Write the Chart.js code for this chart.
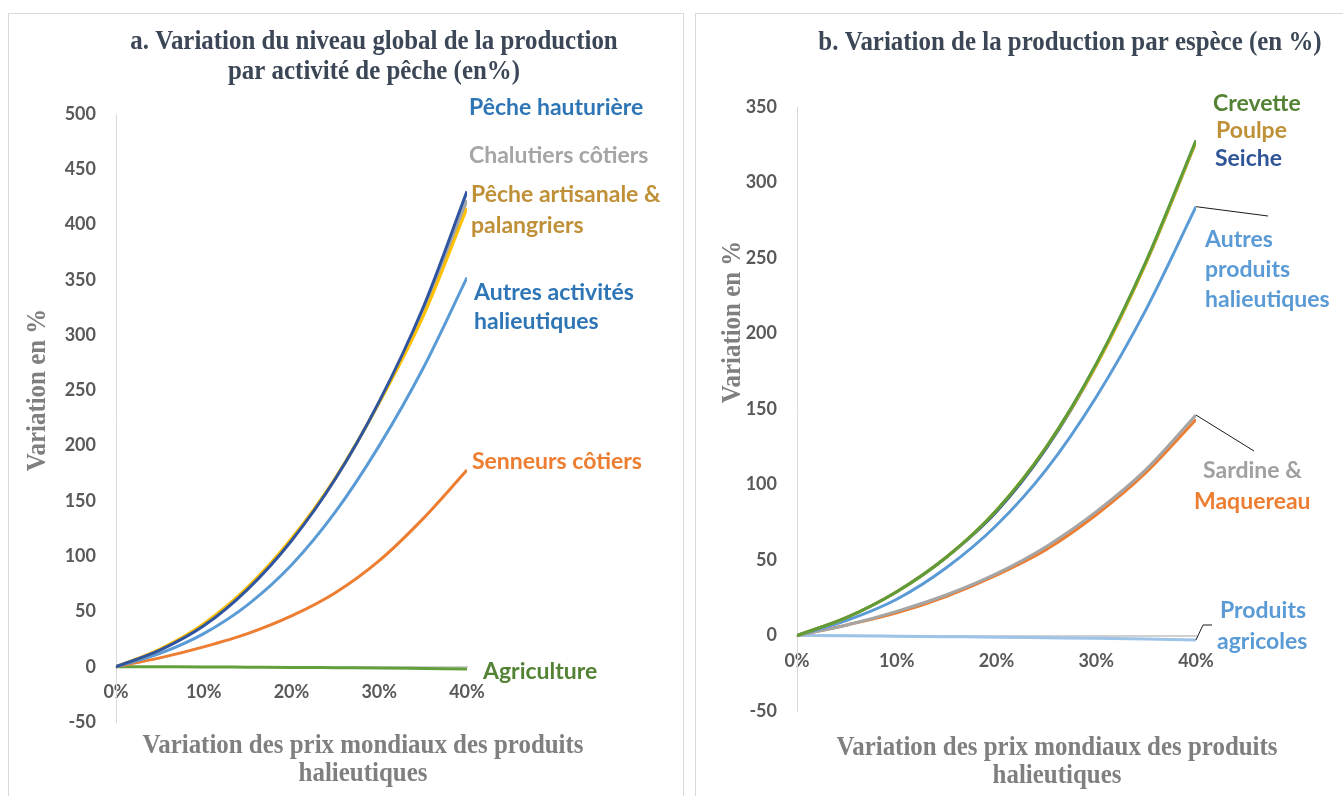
<!DOCTYPE html>
<html><head><meta charset="utf-8">
<script src="https://cdn.jsdelivr.net/npm/chart.js@4.4.1/dist/chart.umd.min.js"></script>
<style>
html,body{margin:0;padding:0;background:#fff;width:1343px;height:796px;overflow:hidden;}
.box{position:absolute;border:1px solid #D9D9D9;box-sizing:border-box;}
#boxA{left:8px;top:13px;width:676px;height:800px}
#boxB{left:695px;top:13px;width:660px;height:800px}
canvas{position:absolute;}
#cA{left:8px;top:13px}
#cB{left:695px;top:13px}
</style></head><body>
<div class="box" id="boxA"></div>
<div class="box" id="boxB"></div>
<canvas id="cA" width="675" height="783"></canvas>
<canvas id="cB" width="648" height="783"></canvas>
<script>
// ---- data ----
const pricePct = [0, 5, 10, 15, 20, 25, 30, 35, 40];
const xTickStep = 10;
const yTicksA = {min: -50, max: 500, step: 50};
const yTicksB = {min: -50, max: 350, step: 50};

// a. par activité de pêche
const hauturiere      = [0, 15, 37, 70, 114, 170, 240, 325, 430];
const chalutiers      = [0, 15, 38, 71, 115, 170, 239, 320, 422];
const artisanale      = [0, 16, 39, 72, 116, 171, 239, 317, 415];
const autresActivites = [0, 12, 30, 56, 92, 140, 200, 270, 352];
const senneurs        = [0, 8, 18, 30, 46, 67, 96, 134, 178];
const agriculture     = [0, -0.1, -0.2, -0.4, -0.6, -0.9, -1.2, -1.6, -2];

// b. par espèce
const crevette          = [0, 12, 29, 52, 83, 125, 180, 248, 328];
const poulpe            = [0, 12, 29, 52, 83, 125, 179, 247, 327];
const seiche            = [0, 12, 29, 52, 82, 124, 179, 247, 327];
const autresProduits    = [0, 10, 24, 45, 73, 110, 158, 216, 284];
const sardine           = [0, 7, 16, 27, 41, 59, 82, 110, 146];
const maquereau         = [0, 7, 15, 26, 40, 57, 80, 108, 143];
const produitsAgricoles = [0, -0.2, -0.5, -0.8, -1.1, -1.5, -1.9, -2.4, -2.9];

// ---- helpers ----
const pts = arr => arr.map((v, i) => ({x: pricePct[i], y: v}));
const ds = (label, arr, color) => ({label, data: pts(arr), borderColor: color, backgroundColor: color,
  borderWidth: 3, pointRadius: 0, cubicInterpolationMode: 'monotone', fill: false});

const tickFont = {family: 'Lato', weight: 'bold', size: 18};
const lblFont = 'bold 23px Lato';
const serifTitle = 'bold 28px "Liberation Serif"';
const serifAxis = 'bold 28px "Liberation Serif"';
const SX = 0.89;

const textPlugin = {
  id: 'texts',
  afterDraw(chart, args, opts) {
    const ctx = chart.ctx;
    ctx.save();
    (opts.lines || []).forEach(l => {
      const meta = chart.getDatasetMeta(l.ds);
      const pt = meta.data[meta.data.length - 1];
      ctx.beginPath();
      ctx.moveTo(pt.x, pt.y);
      l.to.forEach(p => ctx.lineTo(p[0], p[1]));
      ctx.strokeStyle = '#1a1a1a';
      ctx.lineWidth = 1;
      ctx.stroke();
    });
    (opts.items || []).forEach(t => {
      ctx.save();
      ctx.font = t.font;
      ctx.fillStyle = t.color;
      ctx.textAlign = t.align || 'left';
      ctx.textBaseline = 'middle';
      ctx.translate(t.x, t.y);
      if (t.rotate) ctx.rotate(-Math.PI / 2);
      if (t.sx) ctx.scale(t.sx, 1);
      ctx.fillText(t.text, 0, 0);
      ctx.restore();
    });
    ctx.restore();
  }
};

function makeOptions(yT, axisW, pad, texts) {
  return {
    responsive: false, animation: false,
    layout: {padding: pad},
    plugins: {legend: {display: false}, tooltip: {enabled: false}, title: {display: false}, texts},
    scales: {
      x: {type: 'linear', min: 0, max: 40, position: {y: 0},
        grid: {display: false, drawTicks: false},
        border: {display: true, color: '#D0D0D0', width: 2},
        ticks: {stepSize: xTickStep, padding: 15, font: tickFont, color: '#595959', maxRotation: 0,
          callback: v => v + '%'}},
      y: {min: yT.min, max: yT.max,
        grid: {display: false, drawTicks: false},
        border: {display: true, color: '#D9D9D9', width: 1},
        ticks: {stepSize: yT.step, padding: 20, font: tickFont, color: '#595959'},
        afterFit(s) { s.width = axisW; }}
    }
  };
}

const titleCol = '#3B4656';
const axisCol = '#7F7F7F';

new Chart(document.getElementById('cA'), {
  type: 'line',
  data: {datasets: [
    ds('Pêche hauturière', hauturiere, '#2F55A0'),
    ds('Pêche artisanale & palangriers', artisanale, '#FFC000'),
    ds('Chalutiers côtiers', chalutiers, '#A5A5A5'),
    ds('Autres activités halieutiques', autresActivites, '#5B9BD5'),
    ds('Senneurs côtiers', senneurs, '#ED7D31'),
    ds('Agriculture', agriculture, '#62A03E')
  ]},
  options: makeOptions(yTicksA, 108, {left: 0, top: 101, right: 216, bottom: 74}, {
    items: [
      {text: 'a. Variation du niveau global de la production', x: 366, y: 29, font: serifTitle, color: titleCol, align: 'center', sx: SX},
      {text: 'par activité de pêche (en%)', x: 366, y: 59, font: serifTitle, color: titleCol, align: 'center', sx: SX},
      {text: 'Variation des prix mondiaux des produits', x: 355, y: 733, font: serifAxis, color: axisCol, align: 'center', sx: SX},
      {text: 'halieutiques', x: 355, y: 761, font: serifAxis, color: axisCol, align: 'center', sx: SX},
      {text: 'Variation en %', x: 30, y: 377, font: serifAxis, color: axisCol, align: 'center', rotate: true, sx: SX},
      {text: 'Pêche hauturière', x: 461, y: 95, font: lblFont, color: '#2E75B6'},
      {text: 'Chalutiers côtiers', x: 461, y: 143, font: lblFont, color: '#A5A5A5'},
      {text: 'Pêche artisanale &', x: 463, y: 182, font: lblFont, color: '#BF9037'},
      {text: 'palangriers', x: 463, y: 213, font: lblFont, color: '#BF9037'},
      {text: 'Autres activités', x: 466, y: 280, font: lblFont, color: '#2E75B6'},
      {text: 'halieutiques', x: 466, y: 309, font: lblFont, color: '#2E75B6'},
      {text: 'Senneurs côtiers', x: 464, y: 449, font: lblFont, color: '#ED7D31'},
      {text: 'Agriculture', x: 475, y: 659, font: lblFont, color: '#548235'}
    ]
  }),
  plugins: [textPlugin]
});

new Chart(document.getElementById('cB'), {
  type: 'line',
  data: {datasets: [
    ds('Crevette', crevette, '#5E9B3B'),
    ds('Poulpe', poulpe, '#FFC000'),
    ds('Seiche', seiche, '#2F5597'),
    ds('Autres produits halieutiques', autresProduits, '#5B9BD5'),
    ds('Sardine', sardine, '#A5A5A5'),
    ds('Maquereau', maquereau, '#ED7D31'),
    ds('Produits agricoles', produitsAgricoles, '#9DC3E6')
  ]},
  options: makeOptions(yTicksB, 102, {left: 0, top: 94, right: 147, bottom: 85}, {
    lines: [
      {ds: 3, to: [[573, 203]]},
      {ds: 4, to: [[559, 438]]},
      {ds: 6, to: [[508, 612], [517, 612]]}
    ],
    items: [
      {text: 'b. Variation de la production par espèce (en %)', x: 375, y: 30, font: serifTitle, color: titleCol, align: 'center', sx: SX},
      {text: 'Variation des prix mondiaux des produits', x: 362, y: 735, font: serifAxis, color: axisCol, align: 'center', sx: SX},
      {text: 'halieutiques', x: 362, y: 763, font: serifAxis, color: axisCol, align: 'center', sx: SX},
      {text: 'Variation en %', x: 38, y: 309, font: serifAxis, color: axisCol, align: 'center', rotate: true, sx: SX},
      {text: 'Crevette', x: 518, y: 91, font: lblFont, color: '#548235'},
      {text: 'Poulpe', x: 521, y: 118, font: lblFont, color: '#BF9037'},
      {text: 'Seiche', x: 520, y: 146, font: lblFont, color: '#2F5597'},
      {text: 'Autres', x: 510, y: 227, font: lblFont, color: '#5B9BD5'},
      {text: 'produits', x: 510, y: 257, font: lblFont, color: '#5B9BD5'},
      {text: 'halieutiques', x: 510, y: 287, font: lblFont, color: '#5B9BD5'},
      {text: 'Sardine &', x: 508, y: 458, font: lblFont, color: '#A0A0A0'},
      {text: 'Maquereau', x: 499, y: 489, font: lblFont, color: '#ED7D31'},
      {text: 'Produits', x: 525, y: 598, font: lblFont, color: '#5B9BD5'},
      {text: 'agricoles', x: 522, y: 629, font: lblFont, color: '#5B9BD5'}
    ]
  }),
  plugins: [textPlugin]
});
</script>
</body></html>
